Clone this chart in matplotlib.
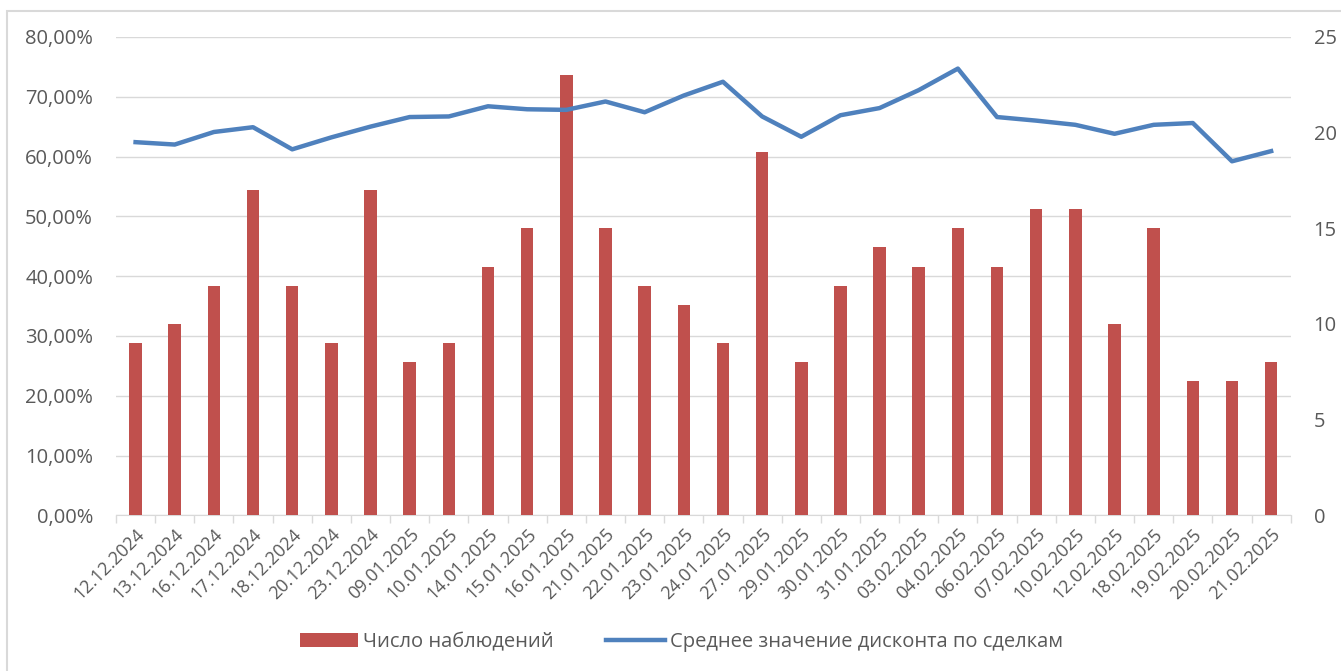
import matplotlib
matplotlib.use("Agg")
import matplotlib.pyplot as plt
from matplotlib.patches import Rectangle
from matplotlib.ticker import FuncFormatter

plt.rcParams['font.family'] = ['Open Sans', 'DejaVu Sans']

dates = ['12.12.2024', '13.12.2024', '16.12.2024', '17.12.2024', '18.12.2024',
         '20.12.2024', '23.12.2024', '09.01.2025', '10.01.2025', '14.01.2025',
         '15.01.2025', '16.01.2025', '21.01.2025', '22.01.2025', '23.01.2025',
         '24.01.2025', '27.01.2025', '29.01.2025', '30.01.2025', '31.01.2025',
         '03.02.2025', '04.02.2025', '06.02.2025', '07.02.2025', '10.02.2025',
         '12.02.2025', '18.02.2025', '19.02.2025', '20.02.2025', '21.02.2025']

# число наблюдений (правая ось)
counts = [9, 10, 12, 17, 12, 9, 17, 8, 9, 13,
          15, 23, 15, 12, 11, 9, 19, 8, 12, 14,
          13, 15, 13, 16, 16, 10, 15, 7, 7, 8]

# средний дисконт (левая ось)
discount = [0.624, 0.620, 0.641, 0.649, 0.612, 0.632, 0.650, 0.666, 0.667, 0.684,
            0.679, 0.678, 0.692, 0.674, 0.702, 0.725, 0.667, 0.633, 0.669, 0.681,
            0.711, 0.747, 0.666, 0.660, 0.653, 0.638, 0.653, 0.656, 0.592, 0.609]

BAR_COLOR = '#C0504D'
LINE_COLOR = '#4F81BD'
TEXT_COLOR = '#595959'
GRID_COLOR = '#D9D9D9'

fig = plt.figure(figsize=(13.41, 6.71), dpi=100)
fig.patches.append(Rectangle((0.005, -0.1), 1.1, 1.083, transform=fig.transFigure,
                             fill=False, edgecolor='#D9D9D9', linewidth=1.5))

ax = fig.add_axes([0.0865, 0.232, 0.876, 0.713])
x = list(range(len(dates)))

# left axis: percentages + grid
ax.set_ylim(0, 0.8)
ax.set_yticks([i / 10 for i in range(9)])
ax.yaxis.set_major_formatter(FuncFormatter(lambda v, p: f"{v * 100:.2f}%".replace('.', ',')))
ax.grid(axis='y', color=GRID_COLOR, linewidth=1)
ax.set_axisbelow(True)
ax.tick_params(axis='y', length=0, pad=16.5, labelsize=14.5, labelcolor=TEXT_COLOR)
ax.set_xlim(-0.5, len(dates) - 0.5)
ax.set_xticks(x)
ax.set_xticklabels(dates, rotation=45, ha='right', va='top', rotation_mode='anchor')
ax.set_xticks([i - 0.5 for i in range(len(dates) + 1)], minor=True)
ax.tick_params(axis='x', which='major', length=0, pad=7, labelsize=13, labelcolor=TEXT_COLOR)
ax.tick_params(axis='x', which='minor', length=6, color=GRID_COLOR, width=1)
for s in ['top', 'left', 'right']:
    ax.spines[s].set_visible(False)
ax.spines['bottom'].set_color(GRID_COLOR)

# bars on right axis
ax2 = ax.twinx()
ax2.bar(x, counts, width=0.32, color=BAR_COLOR, label='Число наблюдений')
ax2.set_ylim(0, 25)
ax2.set_yticks(range(0, 26, 5))
ax2.tick_params(axis='y', length=0, pad=16.5, labelsize=14.5, labelcolor=TEXT_COLOR)
for s in ax2.spines.values():
    s.set_visible(False)

# line on top
ax3 = ax.twinx()
ax3.plot(x, discount, color=LINE_COLOR, linewidth=3.2, solid_joinstyle='round',
         label='Среднее значение дисконта по сделкам')
ax3.set_ylim(0, 0.8)
ax3.set_yticks([])
for s in ax3.spines.values():
    s.set_visible(False)

handles = ax2.get_legend_handles_labels()[0] + ax3.get_legend_handles_labels()[0]
labels = ax2.get_legend_handles_labels()[1] + ax3.get_legend_handles_labels()[1]
leg = fig.legend(handles, labels, loc='center', bbox_to_anchor=(0.508, 0.043), ncol=2,
                 frameon=False, fontsize=14.5, handlelength=2.9, handleheight=0.75,
                 columnspacing=2.6, handletextpad=0.25)
for t in leg.get_texts():
    t.set_color(TEXT_COLOR)

fig.savefig('out.png', dpi=100)
